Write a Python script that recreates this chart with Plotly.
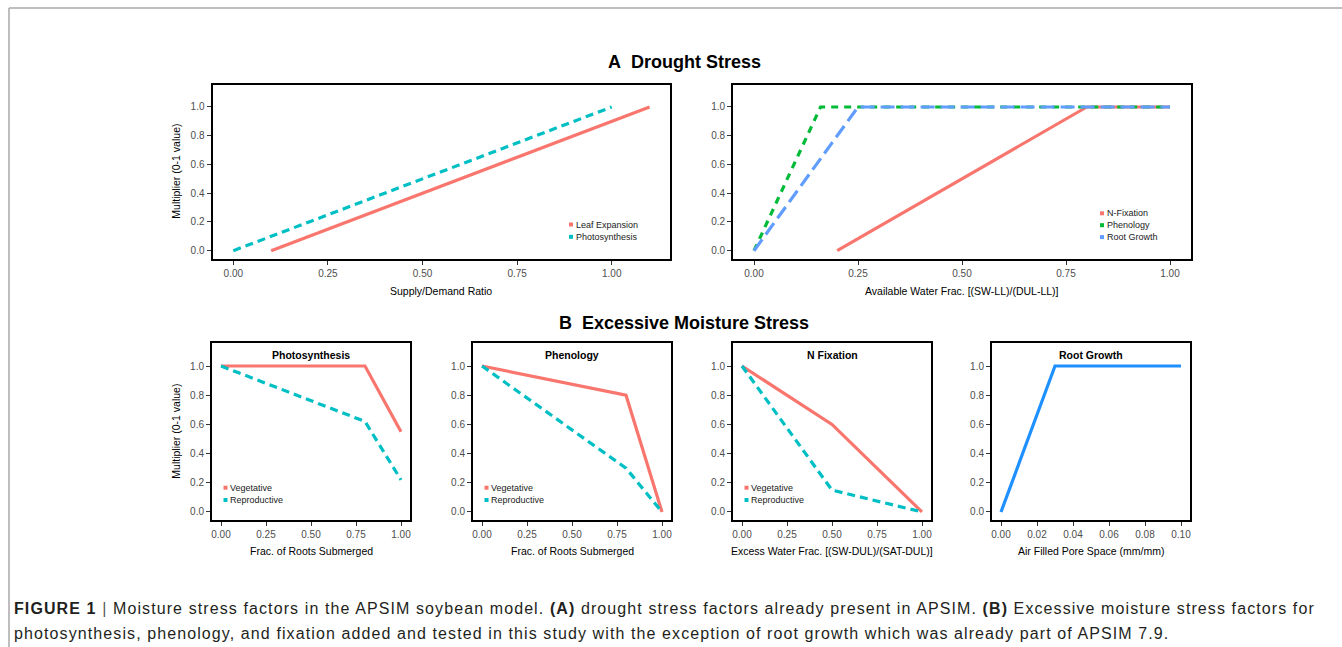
import plotly.graph_objects as go

W, H = 1342, 647

# ---------------- data ----------------
# A: drought stress
a1_leaf_x = [0.1, 1.1]
a1_leaf_y = [0.0, 1.0]
a1_photo_x = [0.0, 1.0]
a1_photo_y = [0.0, 1.0]

a2_nfix_x = [0.2, 0.8, 1.0]
a2_nfix_y = [0.0, 1.0, 1.0]
a2_phen_x = [0.0, 0.16, 1.0]
a2_phen_y = [0.0, 1.0, 1.0]
a2_root_x = [0.0, 0.25, 1.0]
a2_root_y = [0.0, 1.0, 1.0]

# B: excessive moisture stress
b_sub_x = [0.0, 0.8, 1.0]
b1_veg = [1.0, 1.0, 0.55]
b1_rep = [1.0, 0.62, 0.22]
b2_veg = [1.0, 0.8, 0.0]
b2_rep = [1.0, 0.3, 0.0]
b3_x = [0.0, 0.5, 1.0]
b3_veg = [1.0, 0.6, 0.0]
b3_rep = [1.0, 0.15, 0.0]
b4_x = [0.0, 0.03, 0.1]
b4_y = [0.0, 1.0, 1.0]

frac_ticks = [0.0, 0.25, 0.5, 0.75, 1.0]
frac_labels = ["0.00", "0.25", "0.50", "0.75", "1.00"]
mult_ticks = [0.0, 0.2, 0.4, 0.6, 0.8, 1.0]
mult_labels = ["0.0", "0.2", "0.4", "0.6", "0.8", "1.0"]
pore_ticks = [0.0, 0.02, 0.04, 0.06, 0.08, 0.10]
pore_labels = ["0.00", "0.02", "0.04", "0.06", "0.08", "0.10"]

# ---------------- styling ----------------
RED = "#F8766D"
TEAL = "#00BFC4"
GREEN = "#00BA38"
BLUE = "#619CFF"
ROOTBLUE = "#1E90FF"
FONT = "Liberation Sans"
LW = 3.2


def px(x):
    return x / W


def py(y):
    return (H - y) / H


fig = go.Figure()

# panel layout (pixel boxes): (left, right, top, bottom)
panels = {
    1: (212.5, 670.4, 84.7, 258.6),
    2: (733.2, 1190.8, 84.7, 258.6),
    3: (212.0, 410.0, 343.4, 520.0),
    4: (473.0, 671.0, 343.4, 520.0),
    5: (733.0, 931.0, 343.4, 520.0),
    6: (992.0, 1190.0, 343.4, 520.0),
}
xranges = {
    1: [-0.055, 1.155],
    2: [-0.05, 1.05],
    3: [-0.05, 1.05],
    4: [-0.05, 1.05],
    5: [-0.05, 1.05],
    6: [-0.005, 0.105],
}
xticks = {
    1: (frac_ticks, frac_labels),
    2: (frac_ticks, frac_labels),
    3: (frac_ticks, frac_labels),
    4: (frac_ticks, frac_labels),
    5: (frac_ticks, frac_labels),
    6: (pore_ticks, pore_labels),
}


def add_line(i, x, y, color, dash="solid"):
    suffix = "" if i == 1 else str(i)
    fig.add_trace(go.Scatter(
        x=x, y=y, mode="lines", xaxis="x" + suffix, yaxis="y" + suffix,
        line=dict(color=color, width=LW, dash=dash),
        showlegend=False, hoverinfo="skip"))


DASH_T = "8px,5px"
DASH_G = "7px,6px"
DASH_B = "14px,6px"

add_line(1, a1_leaf_x, a1_leaf_y, RED)
add_line(1, a1_photo_x, a1_photo_y, TEAL, DASH_T)
add_line(2, a2_nfix_x, a2_nfix_y, RED)
add_line(2, a2_phen_x, a2_phen_y, GREEN, DASH_G)
add_line(2, a2_root_x, a2_root_y, BLUE, DASH_B)
add_line(3, b_sub_x, b1_veg, RED)
add_line(3, b_sub_x, b1_rep, TEAL, DASH_T)
add_line(4, b_sub_x, b2_veg, RED)
add_line(4, b_sub_x, b2_rep, TEAL, DASH_T)
add_line(5, b3_x, b3_veg, RED)
add_line(5, b3_x, b3_rep, TEAL, DASH_T)
add_line(6, b4_x, b4_y, ROOTBLUE)

layout = dict(
    width=W, height=H, margin=dict(l=0, r=0, t=0, b=0),
    paper_bgcolor="white", plot_bgcolor="white",
    template="none", showlegend=False,
    font=dict(family=FONT, color="#000000"),
)

tickfont = dict(family=FONT, size=10, color="#4D4D4D")
for i, (l, r, t, b) in panels.items():
    suffix = "" if i == 1 else str(i)
    tv, tt = xticks[i]
    layout["xaxis" + suffix] = dict(
        domain=[px(l), px(r)], anchor="y" + suffix, range=xranges[i],
        tickvals=tv, ticktext=tt, ticks="outside", ticklen=4, tickwidth=1,
        tickcolor="#333333", tickfont=tickfont,
        showline=True, mirror=True, linecolor="black", linewidth=2,
        showgrid=False, zeroline=False, fixedrange=True)
    layout["yaxis" + suffix] = dict(
        domain=[py(b), py(t)], anchor="x" + suffix, range=[-0.055, 1.155],
        tickvals=mult_ticks, ticktext=mult_labels, ticks="outside", ticklen=4,
        tickwidth=1, tickcolor="#333333", tickfont=tickfont,
        showline=True, mirror=True, linecolor="black", linewidth=2,
        showgrid=False, zeroline=False, fixedrange=True)

annotations = []
shapes = []


def ann(text, x, y, size, color="#000000", xanchor="center", yanchor="middle",
        angle=0):
    annotations.append(dict(
        text=text, x=px(x), y=py(y), xref="paper", yref="paper",
        xanchor=xanchor, yanchor=yanchor, showarrow=False, textangle=angle,
        font=dict(family=FONT, size=size, color=color)))


# section titles
ann("<b>A\u00a0\u00a0Drought Stress</b>", 684, 62, 18)
ann("<b>B\u00a0\u00a0Excessive Moisture Stress</b>", 684, 323, 18)

# panel titles
for i, name in zip([3, 4, 5, 6],
                   ["Photosynthesis", "Phenology", "N Fixation", "Root Growth"]):
    l, r, t, b = panels[i]
    ann("<b>" + name + "</b>", (l + r) / 2, 355, 10.5)

# axis titles
xtitles = {
    1: ("Supply/Demand Ratio", 291),
    2: ("Available Water Frac. [(SW-LL)/(DUL-LL)]", 291),
    3: ("Frac. of Roots Submerged", 551),
    4: ("Frac. of Roots Submerged", 551),
    5: ("Excess Water Frac. [(SW-DUL)/(SAT-DUL)]", 551),
    6: ("Air Filled Pore Space (mm/mm)", 551),
}
for i, (txt, yy) in xtitles.items():
    l, r, t, b = panels[i]
    ann(txt, (l + r) / 2, yy, 10.5)

for i in [1, 3]:
    l, r, t, b = panels[i]
    ann("Multiplier (0-1 value)", 176, (t + b) / 2, 10.5, angle=-90)


# legends (small square keys + labels)
def legend(items, kx, y0, dy):
    for k, (label, color) in enumerate(items):
        yy = y0 + k * dy
        shapes.append(dict(type="rect", xref="paper", yref="paper",
                           x0=px(kx - 2), x1=px(kx + 2),
                           y0=py(yy + 2), y1=py(yy - 2),
                           fillcolor=color, line=dict(width=0)))
        ann(label, kx + 2.5, yy, 9, color="#1A1A1A", xanchor="left")


legend([("Leaf Expansion", RED), ("Photosynthesis", TEAL)], 571, 224.5, 12.3)
legend([("N-Fixation", RED), ("Phenology", GREEN), ("Root Growth", BLUE)],
       1102, 213.3, 11.9)
for i in [3, 4, 5]:
    l = panels[i][0]
    legend([("Vegetative", RED), ("Reproductive", TEAL)], l + 13.5, 487.7, 12.3)

# caption
SP = "<span style='letter-spacing:1.1px'>"
ann(SP + "<b>FIGURE 1</b> <span style='color:#555555'>|</span> Moisture stress factors in the "
    "APSIM soybean model. <b>(A)</b> drought stress factors already present in APSIM. "
    "<b>(B)</b> Excessive moisture stress factors for</span>",
    12, 608, 16, color="#231F20", xanchor="left")
ann(SP + "photosynthesis, phenology, and fixation added and tested in this study with the "
    "exception of root growth which was already part of APSIM 7.9.</span>",
    12, 633.5, 16, color="#231F20", xanchor="left")

# page frame lines
shapes.append(dict(type="line", xref="paper", yref="paper", x0=px(9), x1=1.0,
                   y0=py(8), y1=py(8), line=dict(color="#A8A8A8", width=1.5)))
shapes.append(dict(type="line", xref="paper", yref="paper", x0=px(9), x1=px(9),
                   y0=py(8), y1=0.0, line=dict(color="#A8A8A8", width=1.5)))

layout["annotations"] = annotations
layout["shapes"] = shapes
fig.update_layout(**layout)

fig.write_html("out.html", config={"displayModeBar": False})
